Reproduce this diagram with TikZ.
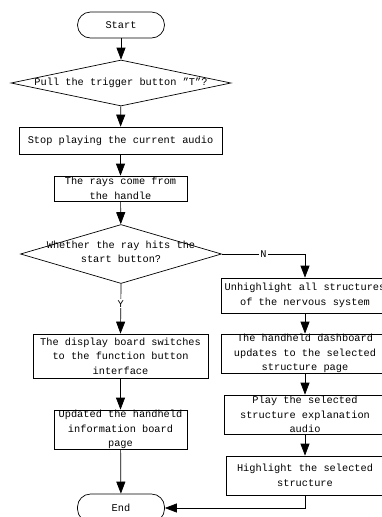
\documentclass[tikz,border=0pt]{standalone}
\usepackage{fontspec}
\setmainfont{Liberation Mono}
\usetikzlibrary{shapes.geometric,arrows.meta}

\begin{document}
\begin{tikzpicture}[x=1pt, y=-1pt,
    font=\fontsize{10.3}{14.5}\selectfont,
    line width=0.7pt,
    >={Triangle[length=12pt,width=9pt]},
    term/.style={draw, rounded corners=13pt, minimum width=87pt, minimum height=26pt},
    proc/.style={draw, align=center, inner xsep=2pt, inner ysep=0pt},
    decision/.style={draw, diamond, inner sep=0pt},
    qtext/.style={align=center, inner sep=0pt},
    flow/.style={->}]
    \useasboundingbox (0,0) rectangle (382,517);

    % Main column
    \node[term] (start) at (121,25) {Start};
    \node[decision, minimum width=220pt, minimum height=46pt] (pull) at (121,83) {};
    \node[qtext] (pulltxt) at (pull) {Pull the trigger button ”T”?};
    \node[proc, minimum width=203pt, minimum height=27pt] (stop) at (120.5,140.5) {Stop playing the current audio};
    \node[proc, minimum width=133pt, minimum height=25pt] (rays) at (120.5,188.5) {The rays come from\\the handle};
    \node[decision, minimum width=201pt, minimum height=59pt] (hit) at (121,254) {};
    \node[qtext] (hittxt) at (121,252) {Whether the ray hits the\\start button?};

    % Y branch
    \node[proc, minimum width=175pt, minimum height=44pt] (disp) at (120.5,356) {The display board switches\\to the function button\\interface};
    \node[proc, minimum width=133pt, minimum height=39pt] (upd) at (120.5,429.5) {Updated the handheld\\information board\\page};
    \node[term, minimum height=28pt] (end) at (121,508) {End};

    % N branch
    \node[proc, minimum width=168pt, minimum height=35pt] (unh) at (305,295.5) {Unhighlight all structures\\of the nervous system};
    \node[proc, minimum width=168pt, minimum height=39pt] (dash) at (305,353.5) {The handheld dashboard\\updates to the selected\\structure page};
    \node[proc, minimum width=162pt, minimum height=39pt] (play) at (305,414.5) {Play the selected\\structure explanation\\audio};
    \node[proc, minimum width=158pt, minimum height=39pt] (high) at (305,475.5) {Highlight the selected\\structure};

    % Connectors
    \draw[flow] (start) -- (pull);
    \draw[flow] (pull) -- (stop);
    \draw[flow] (stop) -- (rays);
    \draw[flow] (rays) -- (hit);
    \draw[flow] (hit.south) -- node[pos=0.4, fill=white, inner sep=1pt] {Y} (disp.north);
    \draw[flow] (disp) -- (upd);
    \draw[flow] (upd) -- (end);
    \draw[flow] (hit.east) -| node[pos=0.25, fill=white, inner sep=1pt] {N} (unh.north);
    \draw[flow] (unh) -- (dash);
    \draw[flow] (dash) -- (play);
    \draw[flow] (play) -- (high);
    \draw[flow] (high.south) |- (end.east);
\end{tikzpicture}
\end{document}
